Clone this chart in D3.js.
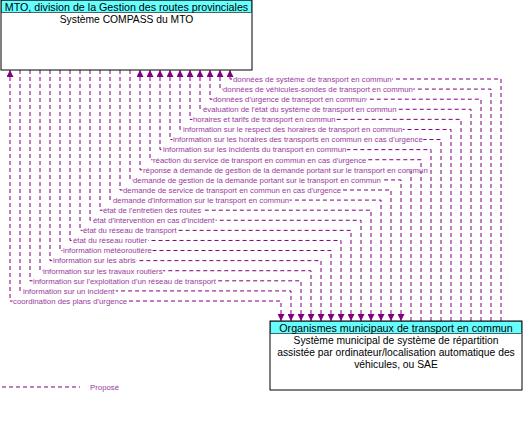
<!DOCTYPE html>
<html><head><meta charset="utf-8">
<script src="https://cdn.jsdelivr.net/npm/d3@7"></script>
<style>body{margin:0;background:#fff}text{font-family:"Liberation Sans",Arial,sans-serif}</style>
</head><body><svg id="c" width="529" height="430"></svg>
<script>
// flows listed bottom (index 0) to top
const flows = [
 "coordination des plans d'urgence",
 "information sur un incident",
 "information sur l'exploitation d'un réseau de transport",
 "information sur les travaux routiers",
 "information sur les abris",
 "information météoroutière",
 "état du réseau routier",
 "état du réseau de transport",
 "état d'intervention en cas d'incident",
 "état de l'entretien des routes",
 "demande d'information sur le transport en commun",
 "demande de service de transport en commun en cas d'urgence",
 "demande de gestion de la demande portant sur le transport en commun",
 "réponse à demande de gestion de la demande portant sur le transport en commun",
 "réaction du service de transport en commun en cas d'urgence",
 "information sur les incidents du transport en commun",
 "information sur les horaires des transports en commun en cas d'urgence",
 "information sur le respect des horaires de transport en commun",
 "horaires et tarifs de transport en commun",
 "évaluation de l'état du système de transport en commun",
 "données d'urgence de transport en commun",
 "données de véhicules-sondes de transport en commun",
 "données de système de transport en commun"
];
const dirs = ["both","down","down","down","down","down","down","down","down","down","down","down","down",
 "up","up","up","up","up","up","up","up","up","up"];
const topBox = {title:"MTO, division de la Gestion des routes provinciales", body:["Système COMPASS du MTO"]};
const botBox = {title:"Organismes municipaux de transport en commun", body:["Système municipal de système de répartition","assistée par ordinateur/localisation automatique des","véhicules, ou SAE"]};
const legendLabel = "Proposé";

const svg = d3.select("#c");
const col = "#800080";
const idx = d3.range(flows.length);
const y = d3.scaleLinear().domain([0, flows.length-1]).range([301, 79]);
const xl = d3.scaleLinear().domain([0, flows.length-1]).range([10, 230]);
const xr = d3.scaleLinear().domain([0, flows.length-1]).range([281, 501]);
const topB = {x:1,y:0,w:251,h:70}, botB = {x:270,y:321,w:252,h:69};

const defs = svg.append("defs");
defs.append("marker").attr("id","ar").attr("viewBox","0 0 8 8").attr("refX",8).attr("refY",4)
 .attr("markerWidth",7).attr("markerHeight",7).attr("markerUnits","userSpaceOnUse").attr("orient","auto")
 .append("path").attr("d","M0,0L8,4L0,8Z").attr("fill",col);
defs.append("marker").attr("id","ar2").attr("viewBox","0 0 8 8").attr("refX",0).attr("refY",4)
 .attr("markerWidth",7).attr("markerHeight",7).attr("markerUnits","userSpaceOnUse").attr("orient","auto")
 .append("path").attr("d","M8,0L0,4L8,8Z").attr("fill",col);

const g = svg.append("g");
idx.forEach(i=>{
  const d = dirs[i];
  const p = d==="up" ? `M${xr(i)},${botB.y} V${y(i)} H${xl(i)} V${topB.y+topB.h}`
                     : `M${xl(i)},${topB.y+topB.h} V${y(i)} H${xr(i)} V${botB.y}`;
  const path = g.append("path").attr("d", p)
   .attr("fill","none").attr("stroke",col).attr("stroke-width",1).attr("stroke-dasharray","4,3")
   .attr("marker-end","url(#ar)");
  if(d==="both") path.attr("marker-start","url(#ar2)");
});

const lab = svg.append("g");
idx.forEach(i=>{
  const t = lab.append("text").attr("x", xl(i)+3).attr("y", y(i)+2.8).attr("font-size",7.8).attr("fill","#9a3aa0").text(flows[i]);
  const bb = t.node().getBBox();
  lab.insert("rect","text").attr("x",bb.x-0.5).attr("y",y(i)-1).attr("width",bb.width+1).attr("height",2).attr("fill","#fff");
});
lab.selectAll("text").raise();

function box(b,o){
  svg.append("rect").attr("x",b.x).attr("y",b.y).attr("width",b.w).attr("height",b.h).attr("fill","#fff").attr("stroke","#000");
  svg.append("rect").attr("x",b.x+0.5).attr("y",b.y+0.5).attr("width",b.w-1).attr("height",12).attr("fill","#66ffff").attr("stroke","#000").attr("stroke-width",0.6);
  svg.append("text").attr("x",b.x+b.w/2).attr("y",b.y+10.5).attr("text-anchor","middle").attr("font-size",10.7).text(o.title);
  o.body.forEach((s,k)=>svg.append("text").attr("x",b.x+b.w/2).attr("y",b.y+23+k*12).attr("text-anchor","middle").attr("font-size",10.3).text(s));
}
box(topB, topBox); box(botB, botBox);

svg.append("line").attr("x1",2).attr("x2",80).attr("y1",387).attr("y2",387).attr("stroke",col).attr("stroke-dasharray","4,3");
svg.append("text").attr("x",90).attr("y",390).attr("font-size",7.8).attr("fill","#9a3aa0").text(legendLabel);
</script></body></html>
